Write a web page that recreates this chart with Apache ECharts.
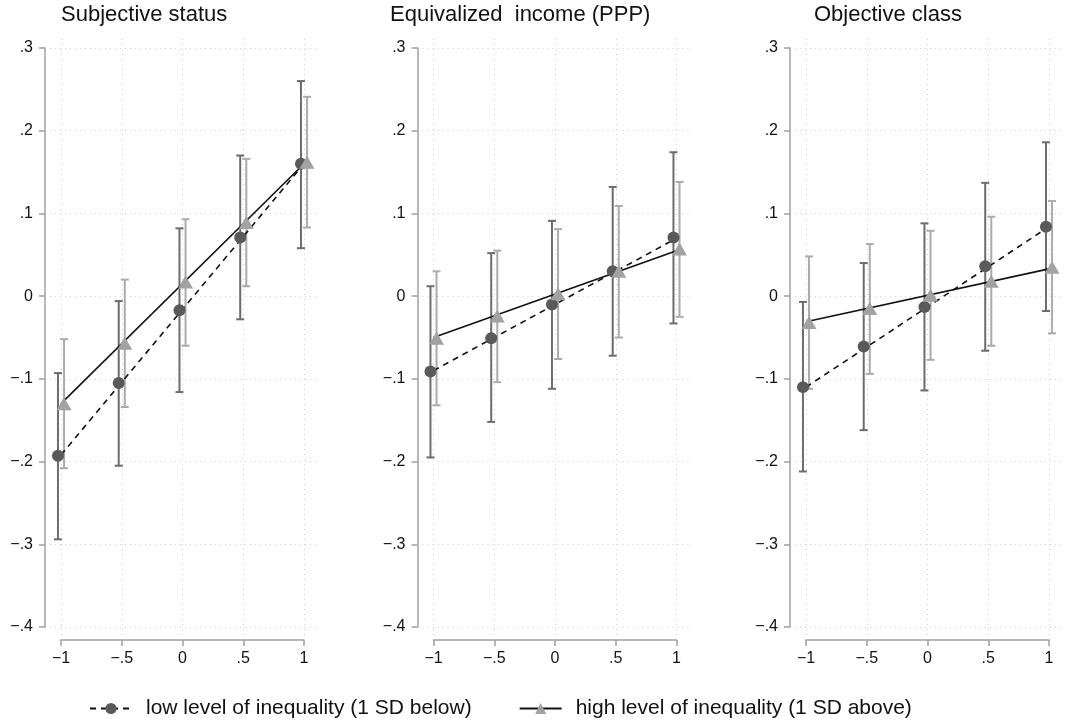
<!DOCTYPE html>
<html>
<head>
<meta charset="utf-8">
<script src="https://cdn.jsdelivr.net/npm/echarts@6/dist/echarts.min.js"></script>
<style>
html,body{margin:0;padding:0;background:#fff;}
#chart{width:1070px;height:721px;}
</style>
</head>
<body>
<div id="chart"></div>
<script>
// ---- data ----
const categories = [-1, -0.5, 0, 0.5, 1];
const xTicks = [-1, -0.5, 0, 0.5, 1];
const yTicks = [-0.4, -0.3, -0.2, -0.1, 0, 0.1, 0.2, 0.3];
const panelTitles = ['Subjective status', 'Equivalized  income (PPP)', 'Objective class'];
const seriesNames = ['low level of inequality (1 SD below)', 'high level of inequality (1 SD above)'];

// Panel 1: Subjective status
const lowEst1  = [-0.193, -0.105, -0.017, 0.071, 0.160];
const lowLo1   = [-0.294, -0.205, -0.116, -0.028, 0.058];
const lowHi1   = [-0.093, -0.006, 0.082, 0.170, 0.260];
const highEst1 = [-0.130, -0.057, 0.017, 0.089, 0.162];
const highLo1  = [-0.208, -0.134, -0.060, 0.012, 0.083];
const highHi1  = [-0.052, 0.020, 0.093, 0.166, 0.241];
const fitLow1  = [-0.192, 0.160];
const fitHigh1 = [-0.130, 0.160];

// Panel 2: Equivalized income (PPP)
const lowEst2  = [-0.091, -0.051, -0.010, 0.030, 0.071];
const lowLo2   = [-0.195, -0.152, -0.112, -0.072, -0.033];
const lowHi2   = [0.012, 0.052, 0.091, 0.132, 0.174];
const highEst2 = [-0.051, -0.024, 0.003, 0.030, 0.057];
const highLo2  = [-0.132, -0.104, -0.076, -0.050, -0.025];
const highHi2  = [0.030, 0.055, 0.081, 0.109, 0.138];
const fitLow2  = [-0.090, 0.070];
const fitHigh2 = [-0.050, 0.055];

// Panel 3: Objective class
const lowEst3  = [-0.110, -0.061, -0.013, 0.036, 0.084];
const lowLo3   = [-0.212, -0.162, -0.114, -0.066, -0.018];
const lowHi3   = [-0.007, 0.040, 0.088, 0.137, 0.186];
const highEst3 = [-0.032, -0.015, 0.001, 0.018, 0.035];
const highLo3  = [-0.112, -0.094, -0.077, -0.060, -0.045];
const highHi3  = [0.048, 0.063, 0.079, 0.096, 0.115];
const fitLow3  = [-0.110, 0.084];
const fitHigh3 = [-0.031, 0.033];

const panels = [
  {low: [lowEst1, lowLo1, lowHi1], high: [highEst1, highLo1, highHi1], fit: [fitLow1, fitHigh1]},
  {low: [lowEst2, lowLo2, lowHi2], high: [highEst2, highLo2, highHi2], fit: [fitLow2, fitHigh2]},
  {low: [lowEst3, lowLo3, lowHi3], high: [highEst3, highLo3, highHi3], fit: [fitLow3, fitHigh3]}
];

// ---- layout & style ----
const FONT = '"Liberation Sans", Arial, Helvetica, sans-serif';
const PANEL_X = [61, 433.5, 806];
const TITLE_X = [61, 390, 814];
const SPAN_W = 243, TICK_TOP = 48, TICK_H = 579;
const PAD_L = 11, PAD_R = 13, PAD_T = 11, PAD_B = 8;
const DODGE = 0.025;
const pxPerX = SPAN_W / 2, pxPerY = TICK_H / 0.7;
const C_LOW_PT = '#5a5a5a', C_LOW_BAR = '#6c6c6c';
const C_HIGH_PT = '#a2a2a2', C_HIGH_BAR = '#ababab';
const C_AXIS = '#a0a0a0', C_GRID = '#cfcfcf';

function fmt(v) {
  const r = Math.round(v * 100) / 100;
  if (r === 0) return '0';
  let s = Math.abs(r).toString().replace(/^0\./, '.');
  return (r < 0 ? '\u2212' : '') + s;
}

const grid = [], xAxis = [], yAxis = [], series = [], graphic = [];

panels.forEach((p, i) => {
  const x0 = PANEL_X[i];
  grid.push({left: x0 - PAD_L, top: TICK_TOP - PAD_T, width: SPAN_W + PAD_L + PAD_R, height: TICK_H + PAD_T + PAD_B, containLabel: false});
  grid.push({left: x0, top: TICK_TOP, width: SPAN_W, height: TICK_H, containLabel: false});
  const gA = 2 * i, gB = 2 * i + 1;
  xAxis.push({type: 'value', gridIndex: gA, min: -1 - PAD_L / pxPerX, max: 1 + PAD_R / pxPerX, show: false});
  yAxis.push({type: 'value', gridIndex: gA, min: -0.4 - PAD_B / pxPerY, max: 0.3 + PAD_T / pxPerY, show: false});
  xAxis.push({type: 'value', gridIndex: gB, min: -1, max: 1, interval: 0.5, position: 'bottom', offset: 13,
    axisLine: {show: true, onZero: false, lineStyle: {color: C_AXIS, width: 1.5}},
    axisTick: {show: true, length: 6, inside: false, lineStyle: {color: C_AXIS, width: 1.5}},
    axisLabel: {show: true, margin: 11, color: '#111', fontFamily: FONT, fontSize: 16, formatter: fmt},
    splitLine: {show: false}});
  yAxis.push({type: 'value', gridIndex: gB, min: -0.4, max: 0.3, interval: 0.1, position: 'left', offset: 16,
    axisLine: {show: true, onZero: false, lineStyle: {color: C_AXIS, width: 1.5}},
    axisTick: {show: true, length: 6, inside: false, lineStyle: {color: C_AXIS, width: 1.5}},
    axisLabel: {show: true, margin: 12, color: '#111', fontFamily: FONT, fontSize: 16, formatter: fmt},
    splitLine: {show: false}});

  const xi = 2 * i, yi = 2 * i;
  const grp = [p.low, p.high];
  const barColors = [C_LOW_BAR, C_HIGH_BAR];
  const offs = [-DODGE, DODGE];

  grp.forEach((g, k) => {
    const data = categories.map((c, j) => [c + offs[k], g[1][j], g[2][j]]);
    series.push({
      type: 'custom', xAxisIndex: xi, yAxisIndex: yi, z: 2, silent: true,
      data: data,
      encode: {x: 0, y: [1, 2]},
      renderItem: function (params, api) {
        const x = api.value(0);
        const top = api.coord([x, api.value(2)]);
        const bot = api.coord([x, api.value(1)]);
        const w = 4;
        const st = {stroke: barColors[k], lineWidth: 2};
        return {type: 'group', children: [
          {type: 'line', shape: {x1: top[0], y1: top[1], x2: bot[0], y2: bot[1]}, style: st},
          {type: 'line', shape: {x1: top[0] - w, y1: top[1], x2: top[0] + w, y2: top[1]}, style: st},
          {type: 'line', shape: {x1: bot[0] - w, y1: bot[1], x2: bot[0] + w, y2: bot[1]}, style: st}
        ]};
      }
    });
  });

  series.push({
    name: seriesNames[0], type: 'line', xAxisIndex: xi, yAxisIndex: yi, z: 3,
    data: [[categories[0], p.fit[0][0]], [categories[categories.length - 1], p.fit[0][1]]],
    symbol: 'circle', symbolSize: 11, showSymbol: false,
    itemStyle: {color: C_LOW_PT},
    lineStyle: {color: '#111', width: 1.6, type: [6, 5]}
  });
  series.push({
    name: seriesNames[1], type: 'line', xAxisIndex: xi, yAxisIndex: yi, z: 3,
    data: [[categories[0], p.fit[1][0]], [categories[categories.length - 1], p.fit[1][1]]],
    symbol: 'triangle', symbolSize: 12, showSymbol: false,
    itemStyle: {color: C_HIGH_PT},
    lineStyle: {color: '#111', width: 1.6, type: 'solid'}
  });

  series.push({
    type: 'scatter', xAxisIndex: xi, yAxisIndex: yi, z: 4, silent: true,
    symbol: 'circle', symbolSize: 12,
    itemStyle: {color: C_LOW_PT, opacity: 1},
    data: categories.map((c, j) => [c - DODGE, p.low[0][j]]),
    markLine: {
      silent: true, symbol: ['none', 'none'], z: 1, animation: false,
      label: {show: false},
      lineStyle: {color: C_GRID, width: 1, type: [1, 4]},
      emphasis: {disabled: true},
      data: xTicks.map(v => ({xAxis: v})).concat(yTicks.map(v => ({yAxis: v})))
    }
  });
  series.push({
    type: 'scatter', xAxisIndex: xi, yAxisIndex: yi, z: 4, silent: true,
    symbol: 'triangle', symbolSize: [15, 13],
    itemStyle: {color: C_HIGH_PT, opacity: 1},
    data: categories.map((c, j) => [c + DODGE, p.high[0][j]])
  });

  graphic.push({
    type: 'text', left: TITLE_X[i], top: 4,
    style: {text: panelTitles[i], fill: '#111', font: '22px ' + FONT}
  });
});

const chart = echarts.init(document.getElementById('chart'), null, {renderer: 'canvas'});
chart.setOption({
  animation: false,
  backgroundColor: '#ffffff',
  grid: grid,
  xAxis: xAxis,
  yAxis: yAxis,
  series: series,
  graphic: graphic,
  legend: {
    data: seriesNames,
    left: 89, top: 698, padding: 0,
    itemWidth: 42, itemHeight: 14, itemGap: 47,
    selectedMode: false,
    textStyle: {fontFamily: FONT, fontSize: 21, color: '#111', padding: [0, 0, 0, 9]}
  }
});
</script>
</body>
</html>
